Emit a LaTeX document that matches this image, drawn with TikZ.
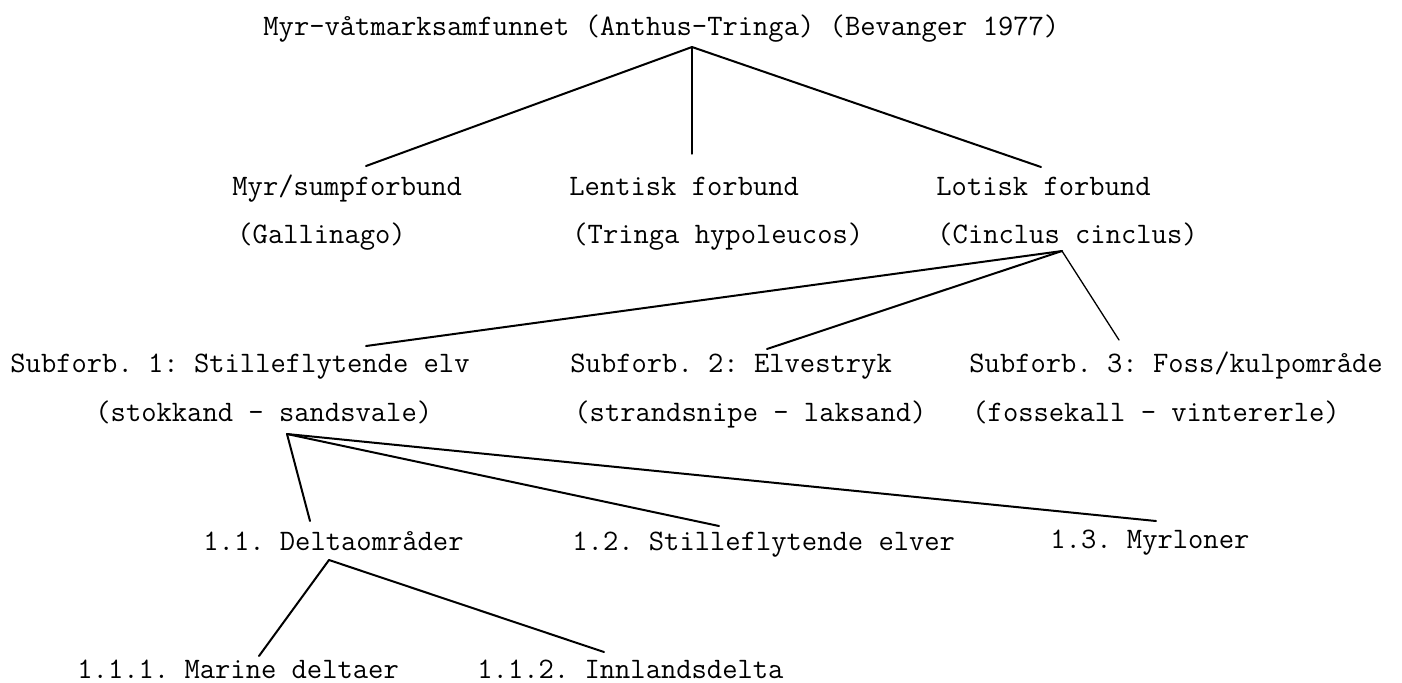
\documentclass[tikz,border=0pt]{standalone}
\usepackage{fontspec}
\begin{document}
\frenchspacing
\begin{tikzpicture}[x=0.5pt,y=-0.5pt,
  txt/.style={anchor=base west, inner sep=0pt, font=\ttfamily\fontsize{14.86}{17}\selectfont},
  link/.style={line width=1pt, line cap=round},
  thinlink/.style={line width=0.65pt, line cap=round}]
\useasboundingbox (0,0) rectangle (1402,682);
% texts
\node[txt] (title) at (263,35) {Myr-våtmarksamfunnet (Anthus-Tringa) (Bevanger 1977)};
\node[txt] (myr) at (232,195) {Myr/sumpforbund};
\node[txt] (lent) at (569,195) {Lentisk forbund};
\node[txt] (lot) at (936,195) {Lotisk forbund};
\node[txt] (gal) at (237,243) {(Gallinago)};
\node[txt] (tri) at (572,243) {(Tringa hypoleucos)};
\node[txt] (cin) at (937,243) {(Cinclus cinclus)};
\node[txt] (s1) at (10,372) {Subforb. 1: Stilleflytende elv};
\node[txt] (s2) at (570,372) {Subforb. 2: Elvestryk};
\node[txt] (s3) at (969,372) {Subforb. 3: Foss/kulpområde};
\node[txt] (s1b) at (95,421) {(stokkand - sandsvale)};
\node[txt] (s2b) at (574,421) {(strandsnipe - laksand)};
\node[txt] (s3b) at (972,421) {(fossekall - vintererle)};
\node[txt] (d11) at (203,550) {1.1. Deltaområder};
\node[txt] (d12) at (572,550) {1.2. Stilleflytende elver};
\node[txt] (d13) at (1050,548) {1.3. Myrloner};
\node[txt] (d111) at (77,678) {1.1.1. Marine deltaer};
\node[txt] (d112) at (477,678) {1.1.2. Innlandsdelta};
% connector end points
\coordinate (titleB) at (692,47);
\coordinate (myrT) at (366,166);
\coordinate (lentT) at (692,154);
\coordinate (lotT) at (1041,167);
\coordinate (cinB) at (1062,251);
\coordinate (s1T) at (366,346);
\coordinate (s2T) at (767,349);
\coordinate (s3T) at (1119,340);
\coordinate (s1bB) at (287,434);
\coordinate (d11T) at (310,521);
\coordinate (d12T) at (719,526);
\coordinate (d13T) at (1156,521);
\coordinate (d11B) at (329,560);
\coordinate (d111T) at (259,656);
\coordinate (d112T) at (604,652);
% connectors
\draw[link] (titleB) -- (myrT);
\draw[thinlink] (titleB) -- (lentT);
\draw[link] (titleB) -- (lotT);
\draw[link] (cinB) -- (s1T);
\draw[link] (cinB) -- (s2T);
\draw[thinlink] (cinB) -- (s3T);
\draw[link] (s1bB) -- (d11T);
\draw[link] (s1bB) -- (d12T);
\draw[link] (s1bB) -- (d13T);
\draw[link] (d11B) -- (d111T);
\draw[link] (d11B) -- (d112T);
\end{tikzpicture}
\end{document}
